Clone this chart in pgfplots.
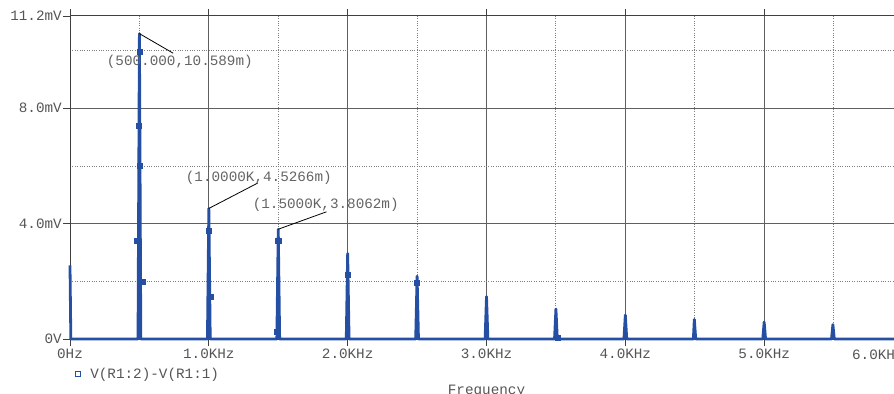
\documentclass[border=0pt]{standalone}
\usepackage{pgfplots}
\pgfplotsset{compat=1.18}
\usepackage{fontspec}
\setmainfont{Liberation Mono}
\definecolor{trace}{RGB}{36,79,163}
\definecolor{lbl}{RGB}{85,85,85}
\definecolor{ann}{RGB}{100,100,100}
\definecolor{gridmaj}{RGB}{95,95,95}
\definecolor{gridmin}{RGB}{125,125,125}
\begin{document}
\begin{tikzpicture}
\begin{axis}[
  at={(70bp,55bp)}, anchor=south west,
  scale only axis, width=833bp, height=323bp,
  xmin=0, xmax=6000, ymin=0, ymax=11.2,
  clip=false,
  font=\fontsize{14.3bp}{16bp}\selectfont,
  xtick={0,1000,2000,3000,4000,5000,6000},
  xticklabels={0Hz,1.0KHz,2.0KHz,3.0KHz,4.0KHz,5.0KHz,{}},
  minor xtick={500,1500,2500,3500,4500,5500},
  ytick={0,4,8,11.2},
  yticklabels={0V,4.0mV,8.0mV,11.2mV},
  minor ytick={2,6,10},
  grid=both,
  major grid style={color=gridmaj, line width=1bp},
  minor grid style={color=gridmin, dotted, line width=0.9bp},
  tick align=outside,
  major tick length=7bp, minor tick length=0pt,
  tick style={color=black!75, line width=0.9bp},
  axis line style={color=black!75, line width=1bp},
  ticklabel style={color=lbl},
  yticklabel style={inner xsep=1bp},
  xticklabel style={inner ysep=3bp},
  legend style={at={(axis description cs:0,-0.108)}, anchor=west, draw=none, fill=none,
    inner xsep=0pt, inner ysep=0pt, text=lbl, font=\fontsize{14.3bp}{16bp}\selectfont},
  legend cell align=left,
  legend image code/.code={\draw[#1, mark size=2.6bp, line width=0.9bp] plot coordinates {(0.18cm+3bp,0cm)};
    \path[draw=none] (0cm,0cm) -- (0.18cm+13bp,0cm);},
]
\addplot[trace, line width=2.8bp, line join=round, forget plot] coordinates {
 (0,2.55)(6,0)
 (490,0)(500,10.589)(510,0)
 (990,0)(1000,4.5266)(1010,0)
 (1490,0)(1500,3.8062)(1510,0)
 (1990,0)(2000,2.97)(2010,0)
 (2490,0)(2500,2.18)(2510,0)
 (2990,0)(3000,1.47)(3010,0)
 (3490,0)(3500,1.04)(3510,0)
 (3990,0)(4000,0.83)(4010,0)
 (4490,0)(4497,0.68)(4507,0)
 (4990,0)(5000,0.59)(5010,0)
 (5485,0)(5495,0.50)(5505,0)
 (6000,0)
};
\addplot[trace, only marks, mark=square*, mark size=2.6bp, forget plot] coordinates {
 (500,9.95)(497,7.4)(504,6.0)(478,3.4)(525,2.0)
 (1000,3.76)(1012,1.46)
 (1500,3.41)(1490,0.25)
 (2000,2.24)(2497,1.95)(3512,0.05)
};
\addlegendimage{trace, only marks, mark=square}
\addlegendentry{V(R1:2)-V(R1:1)}
\draw[black, line width=0.8bp] (axis cs:500,10.589) -- (axis cs:743,9.91);
\draw[black, line width=0.8bp] (axis cs:1000,4.5266) -- (axis cs:1353,5.41);
\draw[black, line width=0.8bp] (axis cs:1500,3.8062) -- (axis cs:1847,4.41);
\node[text=ann, inner sep=0pt] at (axis cs:791,9.62) {(500.000,10.589m)};
\node[text=ann, inner sep=0pt] at (axis cs:1360,5.59) {(1.0000K,4.5266m)};
\node[text=ann, inner sep=0pt] at (axis cs:1842,4.65) {(1.5000K,3.8062m)};
\node[text=lbl, anchor=west, inner sep=0pt] at ([yshift=-16bp]axis cs:5632,0) {6.0KHz};
\node[text=lbl, anchor=base, inner sep=0pt] at (axis description cs:0.5,-0.173) {Frequency};
\end{axis}
\pgfresetboundingbox
\path[use as bounding box] (0,0) rectangle (894bp,394bp);
\end{tikzpicture}
\end{document}
